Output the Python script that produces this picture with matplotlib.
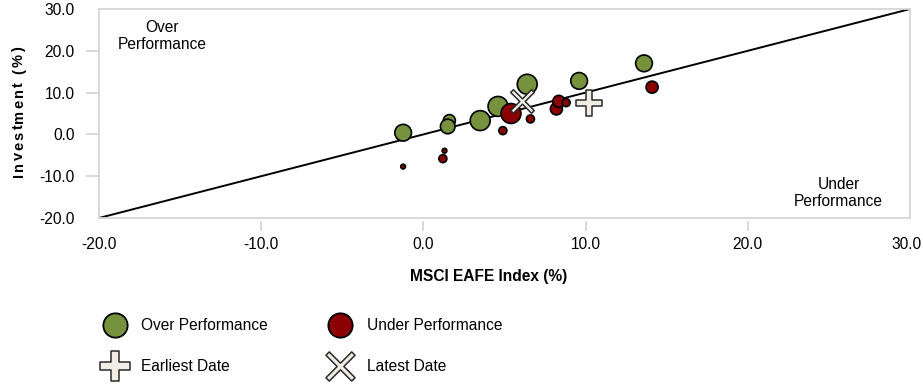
import matplotlib
matplotlib.use("Agg")
import matplotlib.pyplot as plt
import matplotlib.transforms as mtransforms
from matplotlib.lines import Line2D
from matplotlib.path import Path
from matplotlib.font_manager import FontProperties
import numpy as np

plt.rcParams['font.family'] = ['Liberation Sans', 'DejaVu Sans']

# Data
over_x = [-1.25, 1.6, 1.5, 3.5, 4.6, 6.4, 9.6, 13.6]
over_y = [0.4, 3.3, 1.9, 3.3, 6.7, 12.0, 12.8, 17.0]
over_s = [2.9, 1.5, 2.2, 4.1, 4.1, 4.1, 2.9, 2.9]
under_x = [5.4, 6.6, 4.9, 8.2, 8.35, 8.8, 14.1, 1.2, 1.3, -1.25]
under_y = [5.0, 3.7, 0.9, 6.1, 7.9, 7.6, 11.3, -5.8, -3.9, -7.7]
under_s = [4.1, 0.66, 0.66, 1.5, 1.5, 0.66, 1.5, 0.66, 0.23, 0.23]
earliest_x, earliest_y = [10.2], [7.6]
latest_x, latest_y = [6.1], [8.0]
xticks = [-20, -10, 0, 10, 20, 30]
yticks = [-20, -10, 0, 10, 20, 30]

green = '#76923c'
red = '#8b0000'
cross_fill = '#f1ede5'
cross_edge = '#2a2a2a'
grey = '#d6d6d6'
FS = 11.2
W, H = 923, 384

def plus_path(t):
    v = [(-t, 1), (t, 1), (t, t), (1, t), (1, -t), (t, -t), (t, -1), (-t, -1),
         (-t, -t), (-1, -t), (-1, t), (-t, t), (-t, 1)]
    return np.array(v, dtype=float)

plus_marker = Path(plus_path(0.27), closed=True)
rot = np.array([[np.cos(np.pi/4), -np.sin(np.pi/4)], [np.sin(np.pi/4), np.cos(np.pi/4)]])
x_marker = Path(plus_path(0.13) @ rot.T, closed=True)

fig = plt.figure(figsize=(9.23, 3.84), dpi=100)
ax = fig.add_axes([99/W, 1-218/H, (910-99)/W, (218-9)/H])

size_scale = 50
ax.plot([-20, 30], [-20, 30], color='black', lw=1.4, zorder=1, solid_capstyle='butt')
ax.scatter(over_x, over_y, s=[v*size_scale for v in over_s], c=green,
           edgecolors='black', linewidths=1.2, zorder=3)
ax.scatter(under_x, under_y, s=[v*size_scale for v in under_s], c=red,
           edgecolors='black', linewidths=1.2, zorder=3)
ax.scatter(earliest_x, earliest_y, marker=plus_marker, s=18.5**2, c=cross_fill,
           edgecolors=cross_edge, linewidths=1.1, zorder=4)
ax.scatter(latest_x, latest_y, marker=x_marker, s=17**2, c=cross_fill,
           edgecolors=cross_edge, linewidths=1.1, zorder=4)

ax.set_xlim(-20, 30)
ax.set_ylim(-20, 30)
ax.set_xticks(xticks)
ax.set_yticks(yticks)
ax.set_xticklabels([f"{v:.1f}" for v in xticks], fontsize=FS)
ax.set_yticklabels([f"{v:.1f}" for v in yticks], fontsize=FS)
ax.tick_params(axis='x', length=0, pad=13.5)
ax.tick_params(axis='y', length=0, pad=17.5)
# keep the last x tick label inside the canvas
last = ax.get_xticklabels()[-1]
last.set_transform(last.get_transform() + mtransforms.ScaledTranslation(-3/100, 0, fig.dpi_scale_trans))
for sp in ax.spines.values():
    sp.set_color(grey)
    sp.set_linewidth(1.3)

# detached tick marks (interior ticks only)
ytr = mtransforms.blended_transform_factory(ax.transAxes, ax.transData)
xtr = mtransforms.blended_transform_factory(ax.transData, ax.transAxes)
for v in yticks[1:-1]:
    ax.plot([-12/811, -2/811], [v, v], transform=ytr, color=grey, lw=1.3, clip_on=False)
for v in xticks[1:-1]:
    ax.plot([v, v], [-4/209, -12/209], transform=xtr, color=grey, lw=1.3, clip_on=False)

ax.text(0.481, -59/209, 'MSCI EAFE Index (%)', transform=ax.transAxes, ha='center', va='center',
        fontsize=FS, fontweight='bold')

# letter-spaced vertical y label
renderer = fig.canvas.get_renderer()
prop = FontProperties(family=['Liberation Sans', 'DejaVu Sans'], size=10.5, weight='bold')
def adv(ch):
    w1, _, _ = renderer.get_text_width_height_descent('H' + ch + 'H', prop, ismath=False)
    w0, _, _ = renderer.get_text_width_height_descent('HH', prop, ismath=False)
    return w1 - w0
ylab = 'Investment (%)'
advs = [adv(c) for c in ylab]
target = 130.0
gap = (target - sum(advs)) / (len(ylab) - 1)
ypos = 177.0
for c, a in zip(ylab, advs):
    if c != ' ':
        fig.text(23/W, 1 - ypos/H, c, fontproperties=prop, rotation=90,
                 rotation_mode='anchor', ha='left', va='baseline')
    ypos -= a + gap

ax.text(-16.1, 23.5, 'Over\nPerformance', ha='center', va='center', fontsize=FS)
ax.text(25.6, -14.0, 'Under\nPerformance', ha='center', va='center', fontsize=FS)

handles = [
    Line2D([], [], marker='o', ls='none', markersize=17.5, markerfacecolor=green, markeredgecolor='black', markeredgewidth=1.3),
    Line2D([], [], marker=plus_marker, ls='none', markersize=22, markerfacecolor=cross_fill, markeredgecolor=cross_edge, markeredgewidth=1.1),
    Line2D([], [], marker='o', ls='none', markersize=17.5, markerfacecolor=red, markeredgecolor='black', markeredgewidth=1.3),
    Line2D([], [], marker=x_marker, ls='none', markersize=21, markerfacecolor=cross_fill, markeredgecolor=cross_edge, markeredgewidth=1.1),
]
labels = ['Over Performance', 'Earliest Date', 'Under Performance', 'Latest Date']
fig.legend(handles, labels, loc='upper left', bbox_to_anchor=(102.4/W, 1-318/H), ncol=2,
           frameon=False, fontsize=FS, handletextpad=0.9, columnspacing=3.85, labelspacing=1.7,
           handlelength=1.6, borderaxespad=0, borderpad=0)

fig.savefig('out.png', dpi=100)
